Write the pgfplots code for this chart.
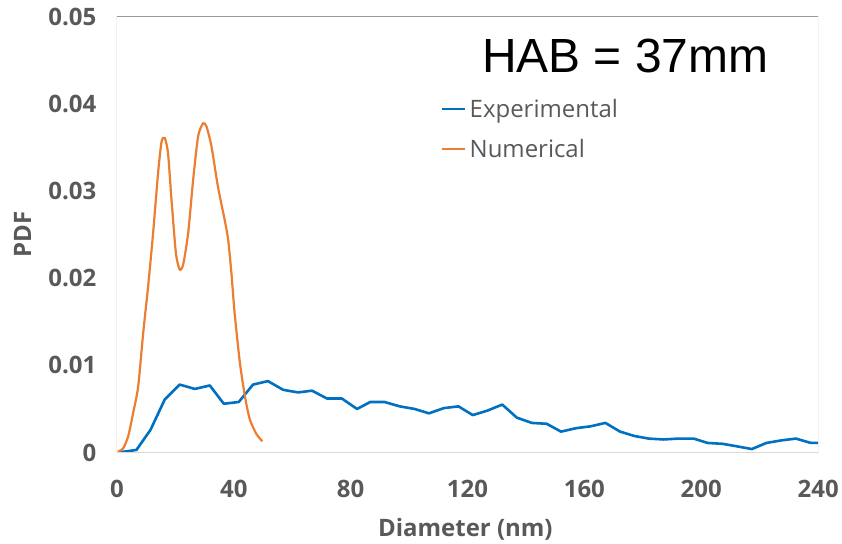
\documentclass[border=0pt]{standalone}
\usepackage{pgfplots}
\pgfplotsset{compat=1.18}
\usepackage{fontspec}
\setmainfont{Open Sans}
\newfontfamily\arial{Liberation Sans}
\definecolor{labelgray}{HTML}{595959}
\definecolor{xlblue}{HTML}{0070C0}
\definecolor{xlorange}{HTML}{ED7D31}
\definecolor{framegray}{HTML}{999999}
\definecolor{basegray}{HTML}{D9D9D9}
\begin{document}
\begin{tikzpicture}
\begin{axis}[
  width=702pt, height=436pt, scale only axis,
  xmin=0, xmax=240, ymin=0, ymax=0.05,
  axis line style={draw=none},
  xtick={0,40,80,120,160,200,240},
  xticklabels={0,40,80,120,160,200,240},
  ytick={0,0.01,0.02,0.03,0.04,0.05},
  yticklabels={0,0.01,0.02,0.03,0.04,0.05},
  scaled y ticks=false,
  /pgf/number format/assume math mode=true,
  major tick length=0pt,
  tick label style={font=\bfseries\fontsize{24}{29}\selectfont, text=labelgray},
  yticklabel style={xshift=-17pt},
  xticklabel style={yshift=-24pt},
  every axis y label/.style={at={(axis description cs:-0.1346,0.5)}, rotate=90, anchor=center,
     font=\bfseries\fontsize{24}{29}\selectfont, text=labelgray},
  every axis x label/.style={at={(axis description cs:0.497,-0.177)}, anchor=center,
     font=\bfseries\fontsize{24}{29}\selectfont, text=labelgray},
  xlabel={Diameter (nm)}, ylabel={PDF},
  legend style={draw=none, fill=none, at={(rel axis cs:0.4615,0.820)}, anchor=north west,
     inner sep=0pt, font=\fontsize{24}{29}\selectfont, text=labelgray,
     nodes={inner sep=4pt}, row sep=12pt},
  legend cell align=left,
  legend image code/.code={\draw[#1, line width=2pt] (0pt,0pt) -- (23pt,0pt);},
]
\addplot[xlblue, line width=2.6pt, line join=round] coordinates {
(0.4,0.0000) (6.7,0.0003) (11.5,0.0026) (16.4,0.0061) (21.5,0.0078) (26.7,0.0073)
(31.8,0.0077) (36.6,0.0056) (41.7,0.0058) (46.6,0.0078) (51.7,0.0082) (56.9,0.0072)
(62.0,0.0069) (66.8,0.0071) (71.9,0.0062) (77.0,0.0062) (82.2,0.0050) (86.7,0.0058)
(91.6,0.0058) (96.8,0.0053) (101.9,0.0050) (106.8,0.0045) (111.9,0.0051) (116.9,0.0053)
(121.8,0.0043) (126.7,0.0048) (131.9,0.0055) (136.9,0.0040) (142.0,0.0034) (147.1,0.0033)
(152.0,0.0024) (157.2,0.0028) (162.0,0.0030) (167.2,0.0034) (172.2,0.0024) (177.1,0.0019)
(182.0,0.0016) (187.1,0.0015) (192.2,0.0016) (197.4,0.0016) (202.2,0.0011) (207.3,0.0010)
(212.4,0.0007) (217.3,0.0004) (222.3,0.0011) (227.5,0.0014) (232.4,0.0016) (237.5,0.0011)
(242.6,0.0011)
};
\addlegendentry{Experimental}
\addplot[xlorange, line width=2.2pt, smooth, tension=0.4] coordinates {
(0.4,0.0001) (2.2,0.0005) (3.9,0.0019) (5.6,0.0046) (7.3,0.0076) (9.0,0.0137)
(10.7,0.0191) (12.4,0.0252) (14.1,0.0321) (15.3,0.0357) (16.4,0.0361) (17.5,0.0344)
(18.7,0.0290) (20.2,0.0229) (21.5,0.0210) (22.7,0.0216) (24.4,0.0252) (26.1,0.0313)
(27.8,0.0363) (29.5,0.0378) (30.7,0.0374) (32.4,0.0351) (34.6,0.0305) (36.9,0.0267)
(38.1,0.0244) (39.2,0.0206) (40.3,0.0160) (42.1,0.0103) (43.8,0.0065) (45.5,0.0038)
(47.8,0.0021) (49.8,0.0013)
};
\addlegendentry{Numerical}
\draw[framegray, line width=1pt] (rel axis cs:0,0) -- (rel axis cs:0,1) -- (rel axis cs:1,1) -- (rel axis cs:1,0);
\draw[basegray, line width=1pt] (rel axis cs:0,0) -- (rel axis cs:1,0);
\node[font=\arial\fontsize{48}{54}\selectfont, anchor=center] at (axis cs:174,0.0455) {HAB = 37mm};
\end{axis}
\useasboundingbox (-117pt,-88pt) rectangle (725pt,453pt);
\end{tikzpicture}
\end{document}
